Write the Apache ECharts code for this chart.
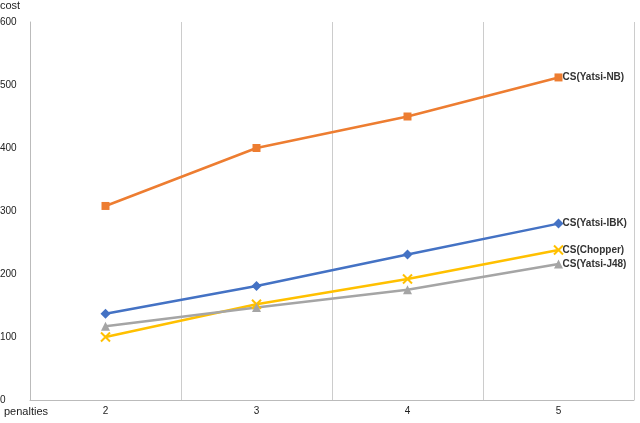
<!DOCTYPE html>
<html><head><meta charset="utf-8">
<script src="https://cdn.jsdelivr.net/npm/echarts@6/dist/echarts.min.js"></script>
<style>html,body{margin:0;padding:0;background:#fff}#c{width:640px;height:423px}</style>
</head><body><div id="c"></div>
<script>
const categories = ['2','3','4','5'];
const yatsiNB = [308, 400, 450, 512];
const yatsiIBK = [137, 181, 231, 280];
const chopper = [100, 152, 192, 238];
const yatsiJ48 = [117, 147, 175, 216];
const names = ['CS(Yatsi-NB)','CS(Yatsi-IBK)','CS(Chopper)','CS(Yatsi-J48)'];
const xPath = 'path://M0,0L10,10M10,0L0,10';
function s(name, data, color, symbol, size){
  return {name, type:'line', data, symbol, symbolSize:size,
    lineStyle:{color, width:2.5}, itemStyle:{color, borderColor:color, borderWidth: symbol===xPath?2:0},
    endLabel:{show:true, formatter:name, color:'#333', fontSize:10, fontWeight:'bold', fontFamily:'Liberation Sans', distance:4}};
}
const chart = echarts.init(document.getElementById('c'));
chart.setOption({
  animation:false,
  grid:{left:30, right:6, top:22, bottom:23, containLabel:false, outerBoundsMode:'none'},
  graphic:[
    {type:'text', left:4, top:406, style:{text:'penalties', fill:'#222', fontSize:11, fontFamily:'Liberation Sans'}},
    {type:'text', left:0, top:0, style:{text:'cost', fill:'#222', fontSize:11, fontFamily:'Liberation Sans'}}
  ],
  xAxis:{type:'category', data:categories, boundaryGap:true,
    axisLine:{lineStyle:{color:'#bbb'}}, axisTick:{show:false},
    axisLabel:{color:'#222', fontSize:10, fontFamily:'Liberation Sans', margin:6},
    splitLine:{show:true, lineStyle:{color:'#ccc', width:1}}},
  yAxis:{type:'value', min:0, max:600, interval:100,
    axisLine:{show:true, lineStyle:{color:'#bbb'}}, axisTick:{show:false}, splitLine:{show:false},
    axisLabel:{color:'#222', fontSize:10, fontFamily:'Liberation Sans', margin:30, align:'left'}},
  series:[
    s(names[0], yatsiNB, '#ED7D31', 'rect', 8),
    s(names[1], yatsiIBK, '#4472C4', 'diamond', 10),
    s(names[2], chopper, '#FFC000', xPath, 9),
    s(names[3], yatsiJ48, '#A5A5A5', 'triangle', 9)
  ]
});
</script></body></html>
